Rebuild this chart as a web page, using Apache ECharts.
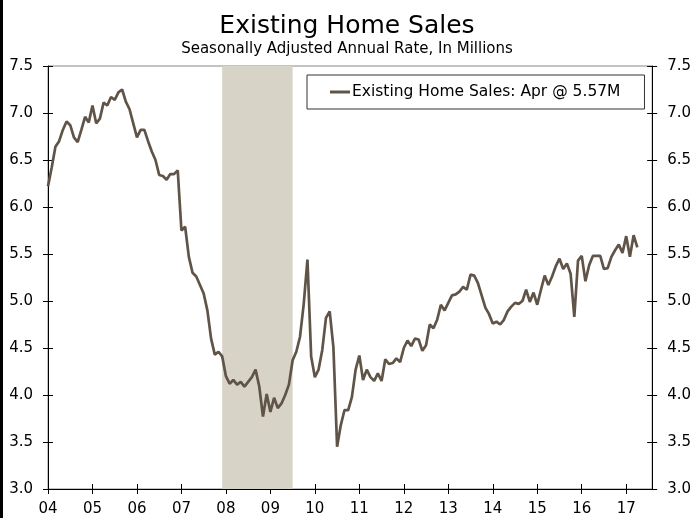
<!DOCTYPE html>
<html>
<head>
<meta charset="utf-8">
<script src="https://cdn.jsdelivr.net/npm/echarts@6/dist/echarts.min.js"></script>
<style>
  html, body { margin: 0; padding: 0; background: #fff; }
  #chart { width: 694px; height: 518px; }
</style>
</head>
<body>
<div id="chart"></div>
<script>
// monthly, Jan 2004 .. Apr 2017 (millions, SAAR)
var SALES = [
  6.22, 6.42, 6.64, 6.70, 6.82, 6.91, 6.87, 6.74, 6.69, 6.82,
  6.96, 6.90, 7.08, 6.89, 6.94, 7.11, 7.08, 7.17, 7.14, 7.22,
  7.25, 7.12, 7.04, 6.89, 6.74, 6.82, 6.82, 6.70, 6.59, 6.50,
  6.34, 6.33, 6.29, 6.35, 6.35, 6.39, 5.75, 5.79, 5.47, 5.30,
  5.26, 5.17, 5.08, 4.90, 4.60, 4.43, 4.46, 4.41, 4.20, 4.12,
  4.16, 4.11, 4.14, 4.09, 4.14, 4.19, 4.27, 4.09, 3.77, 4.01,
  3.82, 3.97, 3.86, 3.91, 4.00, 4.11, 4.37, 4.46, 4.62, 4.97,
  5.44, 4.41, 4.19, 4.27, 4.48, 4.82, 4.89, 4.51, 3.45, 3.68,
  3.84, 3.84, 3.98, 4.27, 4.42, 4.16, 4.27, 4.19, 4.15, 4.23,
  4.15, 4.38, 4.33, 4.34, 4.39, 4.35, 4.50, 4.58, 4.52, 4.60,
  4.59, 4.47, 4.53, 4.75, 4.71, 4.80, 4.96, 4.90, 4.98, 5.06,
  5.07, 5.10, 5.15, 5.12, 5.28, 5.27, 5.19, 5.06, 4.93, 4.86,
  4.76, 4.78, 4.75, 4.80, 4.89, 4.94, 4.98, 4.97, 5.00, 5.12,
  4.99, 5.09, 4.96, 5.12, 5.27, 5.17, 5.26, 5.37, 5.45, 5.34,
  5.40, 5.29, 4.83, 5.43, 5.48, 5.21, 5.38, 5.48, 5.48, 5.48,
  5.34, 5.35, 5.47, 5.54, 5.60, 5.51, 5.69, 5.47, 5.70, 5.57
];
var START_YEAR = 2004;
var AXIS_MONTHS = 164; // axis runs a few months past the last point
var RECESSION = ['2007-12', '2009-07'];
var SERIES_NAME = 'Existing Home Sales: Apr @ 5.57M';

var MONTHS = [];
for (var i = 0; i < AXIS_MONTHS; i++) {
  var y = START_YEAR + Math.floor(i / 12);
  var m = (i % 12) + 1;
  MONTHS.push(y + '-' + (m < 10 ? '0' + m : m));
}

var FONT = 'DejaVu Sans';
var LINE_COLOR = '#5f5447';
var isJan = function (idx) { return idx % 12 === 0; };

function yAxisBase(pos, inside) {
  return {
    type: 'value', position: pos, min: 3.0, max: 7.5, interval: 0.5,
    splitLine: { show: false },
    axisLine: { show: !inside, lineStyle: { color: '#000', width: 1 } },
    axisTick: { show: true, inside: inside, length: 5, lineStyle: { color: '#000' } },
    axisLabel: {
      show: !inside, margin: 15, color: '#000', fontSize: 15, fontFamily: FONT,
      formatter: function (v) { return v.toFixed(1); }
    }
  };
}

function xAxisBase(inside) {
  return {
    type: 'category', position: 'bottom', data: MONTHS, boundaryGap: false,
    axisLine: { show: !inside, onZero: false, lineStyle: { color: '#000', width: 1 } },
    axisTick: { show: true, inside: inside, length: 5, interval: isJan, lineStyle: { color: '#000' } },
    axisLabel: {
      show: !inside, interval: isJan, margin: 13, color: '#000', fontSize: 15, fontFamily: FONT,
      formatter: function (v) { return v.slice(2, 4); }
    },
    splitLine: { show: false }
  };
}

var chart = echarts.init(document.getElementById('chart'), null, { renderer: 'canvas' });

chart.setOption({
  animation: false,
  backgroundColor: '#fff',
  title: {
    text: 'Existing Home Sales',
    subtext: 'Seasonally Adjusted Annual Rate, In Millions',
    left: 'center', top: 9, itemGap: 3,
    textStyle: { fontFamily: FONT, fontSize: 25, fontWeight: 'normal', color: '#000' },
    subtextStyle: { fontFamily: FONT, fontSize: 15, color: '#000' }
  },
  legend: {
    left: 307, top: 75,
    data: [{ name: SERIES_NAME, icon: 'rect' }],
    itemWidth: 20, itemHeight: 3,
    borderColor: '#333', borderWidth: 1,
    padding: [9, 24, 9, 23],
    textStyle: { fontFamily: FONT, fontSize: 15.5, color: '#000', padding: [0, 0, 0, -3] }
  },
  grid: {
    left: 48, right: 40, top: 66, bottom: 29,
    show: true, borderColor: '#888', borderWidth: 1, backgroundColor: 'transparent'
  },
  graphic: [{
    type: 'rect', left: 0, top: 0, silent: true,
    shape: { width: 3, height: 518 }, style: { fill: '#000' }
  }],
  xAxis: [xAxisBase(false), xAxisBase(true)],
  yAxis: [yAxisBase('left', false), yAxisBase('left', true), yAxisBase('right', false), yAxisBase('right', true)],
  series: [{
    name: SERIES_NAME,
    type: 'line',
    data: SALES,
    showSymbol: false,
    symbol: 'none',
    lineStyle: { color: LINE_COLOR, width: 2.7 },
    itemStyle: { color: LINE_COLOR },
    z: 5,
    markArea: {
      silent: true,
      itemStyle: { color: '#d7d3c7' },
      data: [[{ xAxis: RECESSION[0] }, { xAxis: RECESSION[1] }]]
    }
  }]
});
</script>
</body>
</html>
